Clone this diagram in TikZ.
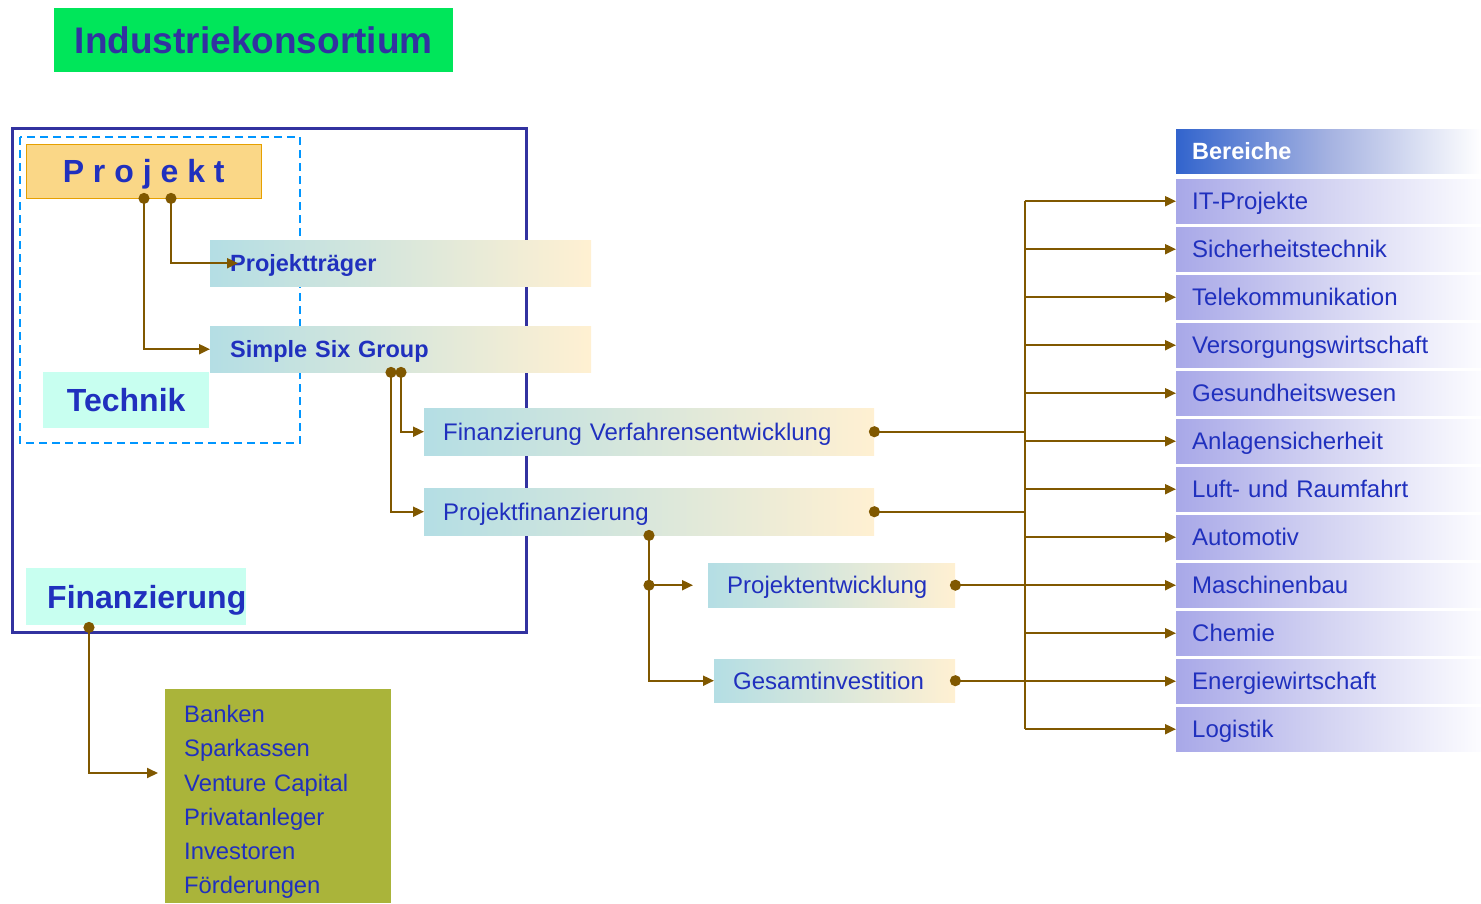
\documentclass[tikz,border=0pt]{standalone}
\usepackage{fontspec}
\setmainfont{Liberation Sans}
\usetikzlibrary{calc}
\usetikzlibrary{arrows.meta}
\hyphenpenalty=10000
\exhyphenpenalty=10000
\definecolor{ink}{RGB}{32,48,190}
\definecolor{wire}{RGB}{128,88,0}
\definecolor{frameblue}{RGB}{50,50,160}
\definecolor{dashblue}{RGB}{0,150,255}
\definecolor{titlegreen}{RGB}{0,230,90}
\definecolor{projfill}{RGB}{250,215,135}
\definecolor{projedge}{RGB}{230,160,0}
\definecolor{mint}{RGB}{200,255,240}
\definecolor{tealL}{RGB}{180,222,228}
\definecolor{creamR}{RGB}{255,240,210}
\definecolor{olive}{RGB}{170,180,58}
\definecolor{lavL}{RGB}{168,168,232}
\definecolor{lavM}{RGB}{212,212,242}
\definecolor{lavR}{RGB}{252,252,255}
\definecolor{headL}{RGB}{50,100,205}
\definecolor{headM}{RGB}{165,178,225}
\newcommand{\regfont}{\fontsize{24}{28}\selectfont}
\newcommand{\boldfont}[1]{\fontsize{#1}{#1}\selectfont\bfseries}
\tikzset{
  box/.style={anchor=north west, inner xsep=0pt, inner ysep=0pt, align=left, text=ink},
  regtext/.style={font=\regfont, text height=17.3pt, text depth=0pt},
  boldtext/.style={font=\boldfont{#1}, text height=0.72*#1 pt, text depth=0pt},
  fadebox/.style={box, left color=tealL, right color=creamR},
  catbox/.style={box, text width=273pt, inner xsep=16pt, minimum height=44pt,
    left color=lavL, right color=lavR, middle color=lavM, regtext},
  wireline/.style={wire, line width=2pt},
  arrow/.style={wireline, -{Triangle[length=11pt,width=10pt]}},
  dotarrow/.style={arrow, {Circle[length=11pt]}-{Triangle[length=11pt,width=10pt]}, shorten <=-5.5pt},
  dotline/.style={wireline, {Circle[length=11pt]}-, shorten <=-5.5pt}
}

\begin{document}
\begin{tikzpicture}[x=1pt,y=-1pt]
        \useasboundingbox (0,0) rectangle (1481,903);
        %frames
        \draw[frameblue, line width=3pt] (12,128) rectangle (526,632);
        \draw[dashblue, line width=2pt, dash pattern=on 8pt off 5pt] (20,137) rectangle (300,443);

        %nodes
        \node[box, fill=titlegreen, align=center, minimum width=399pt, minimum height=64pt,
          text=frameblue, boldtext=37] (title) at (54,8) {Industriekonsortium};
        \node[box, fill=projfill, draw=projedge, align=center, minimum width=235pt, minimum height=54pt,
          boldtext=32] (projekt) at (26,144) {P r o j e k t};
        \node[fadebox, text width=341pt, inner xsep=20pt, minimum height=46pt, boldtext=23.5] (traeger) at (210,240) {Projektträger};
        \node[fadebox, text width=341pt, inner xsep=20pt, minimum height=46pt, boldtext=23.5] (ssg) at (210,326) {Simple Six Group};
        \node[box, fill=mint, align=center, minimum width=166pt, minimum height=56pt, boldtext=32] (technik) at (43,372) {Technik};
        \node[fadebox, text width=412pt, inner xsep=19pt, minimum height=47pt, regtext] (fve) at (424,408) {Finanzierung Verfahrensentwicklung};
        \node[fadebox, text width=412pt, inner xsep=19pt, minimum height=47pt, regtext] (pfin) at (424,488) {Projektfinanzierung};
        \node[fadebox, text width=209pt, inner xsep=19pt, minimum height=44pt, regtext] (pentw) at (708,563) {Projektentwicklung};
        \node[fadebox, text width=203pt, inner xsep=19pt, minimum height=43pt, regtext] (gesamt) at (714,659) {Gesamtinvestition};
        \node[box, fill=mint, text width=178pt, inner xsep=21pt, minimum height=57pt, boldtext=32] (finanz) at (26,568) {Finanzierung};
        \node[box, fill=olive, text width=188pt, inner xsep=19pt, minimum height=214pt, text height=29pt,
          font=\fontsize{23.8}{34.2}\selectfont] (geldgeber) at (165,689)
          {Banken\\Sparkassen\\Venture Capital\\Privatanleger\\Investoren\\Förderungen};
        \node[catbox, left color=headL, right color=white, middle color=headM, text=white,
          boldtext=23.5] (bereiche) at (1176,129) {Bereiche};
        \foreach \cat [count=\i] in {IT-Projekte,Sicherheitstechnik,Telekommunikation,Versorgungswirtschaft,
            Gesundheitswesen,Anlagensicherheit,Luft- und Raumfahrt,Automotiv,Maschinenbau,Chemie,
            Energiewirtschaft,Logistik}
          \node[catbox] (cat\i) at (1176,{179+48*(\i-1)}) {\cat};

        %edges
        \draw[dotarrow] ($(projekt.south west)+(145,0)$) |- ($(traeger.west)+(28,0)$);
        \draw[dotarrow] ($(projekt.south west)+(118,0)$) |- (ssg.west);
        \draw[dotarrow] ($(ssg.south west)+(191,0)$) |- (fve.west);
        \draw[dotarrow] ($(ssg.south west)+(181,0)$) |- (pfin.west);
        \coordinate (pdown) at ($(pfin.south west)+(225,0)$);
        \coordinate (pbranch) at (pdown |- pentw.west);
        \draw[dotarrow] (pdown) |- (gesamt.west);
        \draw[dotarrow] (pbranch) -- ($(pentw.west)+(-15,0)$);
        \draw[dotarrow] ($(finanz.south west)+(63,2)$) |- ($(geldgeber.north west)+(-7,84)$);

        \coordinate (bus) at (1025,0);
        \draw[wireline] (bus |- cat1.west) -- (bus |- cat12.west);
        \foreach \src in {fve,pfin,pentw,gesamt}
          \draw[dotline] (\src.east) -- (\src.east -| bus);
        \foreach \i in {1,...,12}
          \draw[arrow] (bus |- cat\i.west) -- (cat\i.west);
\end{tikzpicture}
\end{document}
